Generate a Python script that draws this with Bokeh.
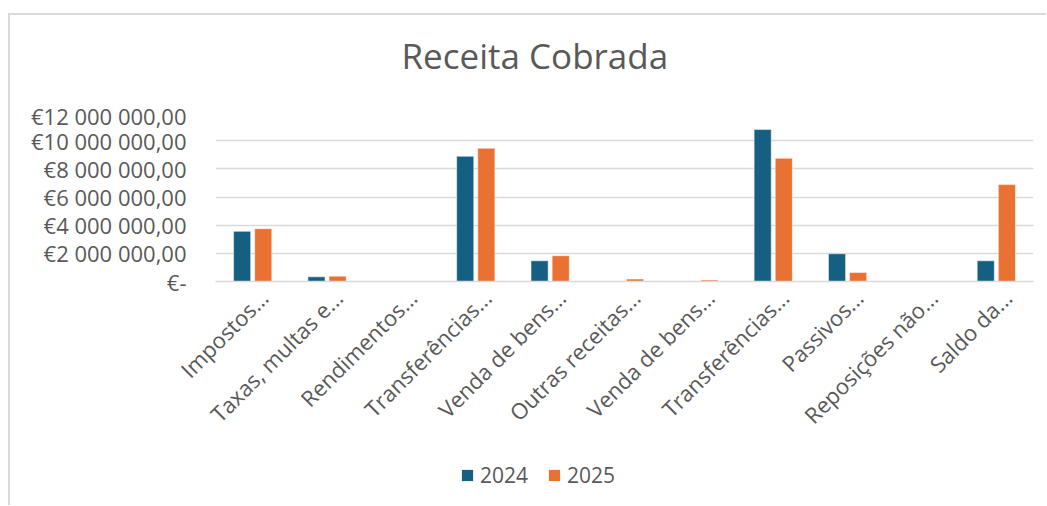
import math
from bokeh.plotting import figure
from bokeh.layouts import column
from bokeh.models import Range1d, FixedTicker, Legend, LegendItem
from bokeh.transform import dodge
from bokeh.embed import file_html
from bokeh.resources import INLINE

# ---- data ----
chart_title = "Receita Cobrada"
display_labels = [
    "Impostos...",
    "Taxas, multas e...",
    "Rendimentos...",
    "Transferências...",
    "Venda de bens...",
    "Outras receitas...",
    "Venda de bens...",
    "Transferências...",
    "Passivos...",
    "Reposições não...",
    "Saldo da...",
]
values_2024 = [3560000, 330000, 0, 8890000, 1470000, 0, 0, 10790000, 1970000, 0, 1470000]
values_2025 = [3750000, 380000, 0, 9460000, 1830000, 170000, 100000, 8750000, 640000, 0, 6880000]
series_names = ["2024", "2025"]
y_ticks = [0, 2000000, 4000000, 6000000, 8000000, 10000000, 12000000]
y_tick_labels = ["€-", "€2 000 000,00", "€4 000 000,00", "€6 000 000,00",
                 "€8 000 000,00", "€10 000 000,00", "€12 000 000,00"]

TEXT = "#595959"
GRID = "#d9d9d9"
BLUE = "#156082"
ORANGE = "#E97132"
FONT = "Open Sans"
LABEL_SHIFT = 0.15   # rotated category labels end slightly right of the group centre

positions = list(range(len(display_labels)))

# ---- title strip ----
tfig = figure(
    x_range=Range1d(0, 1), y_range=Range1d(0, 1),
    width=1036, height=85, title=chart_title,
    min_border_left=0, min_border_right=0, min_border_top=0, min_border_bottom=0,
    x_axis_location=None, y_axis_location=None,
    output_backend="svg", toolbar_location=None,
)
tfig.outline_line_color = None
tfig.grid.grid_line_color = None
tfig.title.text_font = FONT
tfig.title.text_font_size = "35px"
tfig.title.text_font_style = "normal"
tfig.title.text_color = TEXT
tfig.title.align = "left"
tfig.title.offset = 186
tfig.title.standoff = 29

# ---- main chart ----
p = figure(
    x_range=Range1d(-0.5, len(display_labels) - 0.5),
    y_range=Range1d(0, 12000000),
    width=1036, height=347, title=None,
    min_border_left=205, min_border_right=13,
    min_border_top=12, min_border_bottom=166,
    output_backend="svg", toolbar_location=None,
)
p.outline_line_color = None

src = dict(x=positions, v24=values_2024, v25=values_2025)
r1 = p.vbar(x=dodge("x", -0.142), top="v24", width=0.23,
            source=src, fill_color=BLUE, line_color="white", line_width=0.5)
r2 = p.vbar(x=dodge("x", 0.142), top="v25", width=0.23,
            source=src, fill_color=ORANGE, line_color="white", line_width=0.5)

# y axis
p.yaxis.ticker = FixedTicker(ticks=y_ticks)
p.yaxis.major_label_overrides = {t: l for t, l in zip(y_ticks, y_tick_labels)}
p.yaxis.axis_line_color = None
p.yaxis.major_tick_line_color = None
p.yaxis.minor_tick_line_color = None
p.yaxis.major_tick_out = 0
p.yaxis.major_label_standoff = 29
p.yaxis.major_label_text_font = FONT
p.yaxis.major_label_text_font_size = "22px"
p.yaxis.major_label_text_color = TEXT

# x axis
tick_pos = [i + LABEL_SHIFT for i in positions]
p.xaxis.ticker = FixedTicker(ticks=tick_pos)
p.xaxis.major_label_overrides = {t: l for t, l in zip(tick_pos, display_labels)}
p.xaxis.major_label_orientation = math.pi / 4
p.xaxis.axis_line_color = GRID
p.xaxis.axis_line_width = 1.5
p.xaxis.major_tick_line_color = None
p.xaxis.minor_tick_line_color = None
p.xaxis.major_tick_out = 0
p.xaxis.major_label_standoff = 12
p.xaxis.major_label_text_font = FONT
p.xaxis.major_label_text_font_size = "22px"
p.xaxis.major_label_text_color = TEXT

p.xgrid.grid_line_color = None
p.ygrid.grid_line_color = GRID
p.ygrid.grid_line_width = 1.5

# ---- legend strip ----
leg = figure(
    x_range=Range1d(0, 1), y_range=Range1d(0, 1),
    width=1036, height=58,
    min_border_left=0, min_border_right=0, min_border_top=0, min_border_bottom=0,
    x_axis_location=None, y_axis_location=None,
    output_backend="svg", toolbar_location=None,
)
leg.outline_line_color = None
leg.grid.grid_line_color = None
d1 = leg.vbar(x=[0], top=[0], width=0, fill_color=BLUE, line_color=None)
d2 = leg.vbar(x=[0], top=[0], width=0, fill_color=ORANGE, line_color=None)
legend = Legend(
    items=[LegendItem(label=series_names[0], renderers=[d1]),
           LegendItem(label=series_names[1], renderers=[d2])],
    orientation="horizontal",
    location=(245, 16),
    border_line_alpha=0, background_fill_alpha=0,
    glyph_width=14, glyph_height=14,
    label_text_font=FONT, label_text_font_size="21px", label_text_color=TEXT,
    spacing=19, padding=0, margin=0, label_standoff=6,
)
leg.add_layout(legend, "center")

layout = column(tfig, p, leg, spacing=0,
                styles={"margin-top": "13px", "margin-left": "8px",
                        "border-top": "2px solid #d9d9d9",
                        "border-left": "2px solid #d9d9d9"})

open("out.html", "w").write(file_html(layout, INLINE))
